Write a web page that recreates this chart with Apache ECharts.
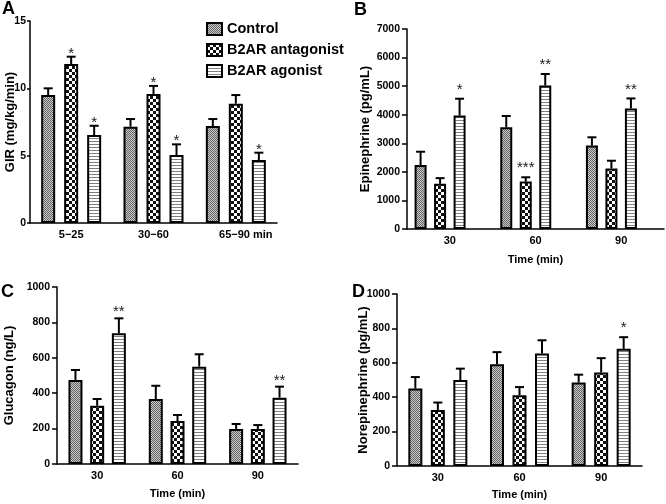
<!DOCTYPE html>
<html>
<head>
<meta charset="utf-8">
<script src="https://cdn.jsdelivr.net/npm/echarts@6/dist/echarts.min.js"></script>
<style>
html,body{margin:0;padding:0;background:#fff;}
#chart{width:666px;height:504px;}
</style>
</head>
<body>
<div id="chart"></div>
<script>
// ---------- DATA ----------
const seriesNames = ['Control', 'B2AR antagonist', 'B2AR agonist'];

const catsGIR = ['5\u221225', '30\u221260', '65\u221290 min'];
const catsTime = ['30', '60', '90'];

// Panel A: GIR (mg/kg/min)
const girControl = [9.5, 7.15, 7.2];
const girControlErr = [0.5, 0.57, 0.52];
const girAntagonist = [11.8, 9.58, 8.86];
const girAntagonistErr = [0.55, 0.6, 0.64];
const girAgonist = [6.53, 5.05, 4.68];
const girAgonistErr = [0.69, 0.79, 0.54];
const girStars = [['', '', ''], ['*', '*', ''], ['*', '*', '*']];

// Panel B: Epinephrine (pg/mL)
const epiControl = [2240, 3560, 2920];
const epiControlErr = [465, 395, 290];
const epiAntagonist = [1580, 1660, 2120];
const epiAntagonistErr = [200, 150, 270];
const epiAgonist = [3970, 5020, 4220];
const epiAgonistErr = [590, 405, 350];
const epiStars = [['', '', ''], ['', '***', ''], ['*', '**', '**']];

// Panel C: Glucagon (ng/L)
const gluControl = [475, 367, 198];
const gluControlErr = [56, 75, 28];
const gluAntagonist = [329, 243, 198];
const gluAntagonistErr = [38, 34, 22];
const gluAgonist = [738, 550, 375];
const gluAgonistErr = [85, 70, 62];
const gluStars = [['', '', ''], ['', '', ''], ['**', '', '**']];

// Panel D: Norepinephrine (pg/mL)
const norControl = [450, 591, 485];
const norControlErr = [67, 71, 46];
const norAntagonist = [326, 411, 543];
const norAntagonistErr = [43, 48, 84];
const norAgonist = [500, 654, 681];
const norAgonistErr = [66, 77, 68];
const norStars = [['', '', ''], ['', '', ''], ['', '', '*']];

// Y-axis ranges / ticks
const yMax = [15, 7000, 1000, 1000];
const yInterval = [5, 1000, 200, 200];
const yNames = ['GIR (mg/kg/min)', 'Epinephrine (pg/mL)', 'Glucagon (ng/L)', 'Norepinephrine (pg/mL)'];
const xNames = ['', 'Time (min)', 'Time (min)', 'Time (min)'];
const panelLetters = ['A', 'B', 'C', 'D'];

// ---------- PATTERNS ----------
function makeCanvas(w, h, draw) {
  const c = document.createElement('canvas');
  c.width = w; c.height = h;
  const ctx = c.getContext('2d');
  draw(ctx);
  return c;
}
const patControl = makeCanvas(2, 2, ctx => {
  ctx.fillStyle = '#cacaca'; ctx.fillRect(0, 0, 2, 2);
  ctx.fillStyle = '#646464'; ctx.fillRect(0, 0, 1, 1); ctx.fillRect(1, 1, 1, 1);
});
const patAntagonist = makeCanvas(6, 6, ctx => {
  ctx.fillStyle = '#ffffff'; ctx.fillRect(0, 0, 6, 6);
  ctx.fillStyle = '#111111'; ctx.fillRect(0, 0, 3, 3); ctx.fillRect(3, 3, 3, 3);
});
const patAgonist = makeCanvas(3, 3, ctx => {
  ctx.fillStyle = '#ffffff'; ctx.fillRect(0, 0, 3, 3);
  ctx.fillStyle = '#808080'; ctx.fillRect(0, 0, 3, 1);
});
const patterns = [patControl, patAntagonist, patAgonist];

// ---------- LAYOUT ----------
const SANS = '"Liberation Sans", Arial, sans-serif';

const grids = [
  { left: 30, top: 21, width: 247, height: 202 },
  { left: 407, top: 29, width: 257, height: 200 },
  { left: 57, top: 287, width: 241, height: 177 },
  { left: 397, top: 294, width: 245, height: 172 }
];
const panelStyle = [
  { barW: 14, pitch: 23, pad: false, starOff: 5, yNameGap: 13, tickLen: 3, labMargin: 4, xNameGap: 23 },
  { barW: 12, pitch: 19.5, pad: true, starOff: 11, yNameGap: 35, tickLen: 5, labMargin: 7, xNameGap: 25 },
  { barW: 14, pitch: 21.7, pad: false, starOff: 8, yNameGap: 41, tickLen: 5, labMargin: 7, xNameGap: 24 },
  { barW: 14, pitch: 22.5, pad: false, starOff: 11, yNameGap: 27, tickLen: 5, labMargin: 7, xNameGap: 23 }
];

const panelData = [
  { vals: [girControl, girAntagonist, girAgonist], errs: [girControlErr, girAntagonistErr, girAgonistErr], stars: girStars },
  { vals: [epiControl, epiAntagonist, epiAgonist], errs: [epiControlErr, epiAntagonistErr, epiAgonistErr], stars: epiStars },
  { vals: [gluControl, gluAntagonist, gluAgonist], errs: [gluControlErr, gluAntagonistErr, gluAgonistErr], stars: gluStars },
  { vals: [norControl, norAntagonist, norAgonist], errs: [norControlErr, norAntagonistErr, norAgonistErr], stars: norStars }
];

const xAxes = [], yAxes = [], series = [], titles = [];
grids.forEach((g, p) => {
  g.outerBoundsMode = 'none';
  const ps = panelStyle[p];
  xAxes.push({
    type: 'category', gridIndex: p, data: p === 0 ? catsGIR : catsTime,
    axisLine: { lineStyle: { color: '#000', width: 1.5 } },
    axisTick: { show: false },
    axisLabel: {
      interval: 0, hideOverlap: false,
      margin: 6, color: '#000', fontSize: 11, fontWeight: 'bold', fontFamily: SANS,
      formatter: v => v.indexOf('min') >= 0 ? '{m|' + v + '}' : v,
      rich: { m: { padding: [0, 0, 0, 20], fontSize: 11, fontWeight: 'bold', fontFamily: SANS, color: '#000' } }
    },
    name: xNames[p], nameLocation: 'middle', nameGap: ps.xNameGap, nameMoveOverlap: false,
    nameTextStyle: { color: '#000', fontSize: 11, fontWeight: 'bold', fontFamily: SANS }
  });
  yAxes.push({
    type: 'value', gridIndex: p, min: 0, max: yMax[p], interval: yInterval[p],
    axisLine: { show: true, lineStyle: { color: '#000', width: 1.5 } },
    axisTick: { show: true, length: ps.tickLen, lineStyle: { color: '#000', width: 1.5 } },
    splitLine: { show: false },
    axisLabel: { margin: ps.labMargin, color: '#000', fontSize: 10.5, fontWeight: 'bold', fontFamily: SANS,
                 formatter: v => String(v) },
    name: yNames[p], nameLocation: 'middle', nameRotate: 90, nameGap: ps.yNameGap, nameMoveOverlap: false,
    nameTextStyle: { color: '#000', fontSize: 13, fontWeight: 'bold', fontFamily: SANS }
  });
  const nSlots = ps.pad ? 4 : 3;
  const gapPct = ((ps.pitch - ps.barW) / ps.barW * 100) + '%';
  const pd = panelData[p];
  for (let s = 0; s < 3; s++) {
    series.push({
      type: 'bar', name: seriesNames[s], xAxisIndex: p, yAxisIndex: p,
      data: pd.vals[s], barWidth: ps.barW, barGap: gapPct,
      itemStyle: { color: { image: patterns[s], repeat: 'repeat' }, borderColor: '#000', borderWidth: 2 },
      emphasis: { disabled: true }, z: 2
    });
  }
  if (ps.pad) {
    series.push({
      type: 'bar', name: 'pad', xAxisIndex: p, yAxisIndex: p,
      data: ['-', '-', '-'], barWidth: ps.barW, barGap: gapPct, silent: true
    });
  }
  for (let s = 0; s < 3; s++) {
    const off = (s - (nSlots - 1) / 2) * ps.pitch;
    const stars = pd.stars[s];
    series.push({
      type: 'custom', xAxisIndex: p, yAxisIndex: p, z: 5, silent: true,
      data: pd.vals[s].map((v, i) => [i, v, pd.errs[s][i]]),
      encode: { x: 0, y: 1 },
      renderItem: (params, api) => {
        const ci = api.value(0), v = api.value(1), e = api.value(2);
        const p0 = api.coord([ci, v]);
        const p1 = api.coord([ci, v + e]);
        const x = p0[0] + off;
        const children = [
          { type: 'line', shape: { x1: x, y1: p0[1], x2: x, y2: p1[1] }, style: { stroke: '#000', lineWidth: 2 } },
          { type: 'line', shape: { x1: x - 4.5, y1: p1[1], x2: x + 4.5, y2: p1[1] }, style: { stroke: '#000', lineWidth: 2 } }
        ];
        const st = stars[params.dataIndex];
        if (st) {
          children.push({
            type: 'text',
            style: { text: st, x: x, y: p1[1] - ps.starOff + 2, align: 'center', verticalAlign: 'middle',
                     fontSize: 15, fill: '#1a1a1a', fontFamily: SANS }
          });
        }
        return { type: 'group', children: children };
      }
    });
  }
});

const letterPos = [[2, 0], [354, 1], [1, 283], [352, 283]];
panelLetters.forEach((L, i) => {
  titles.push({ text: L, left: letterPos[i][0], top: letterPos[i][1], padding: 0,
    textStyle: { fontSize: 18, fontWeight: 'bold', color: '#000', fontFamily: SANS } });
});

const option = {
  animation: false,
  backgroundColor: '#fff',
  title: titles,
  legend: {
    data: seriesNames, orient: 'vertical', left: 201, top: 16,
    itemWidth: 15, itemHeight: 12, itemGap: 5, icon: 'rect', selectedMode: false,
    textStyle: { fontSize: 14.5, fontWeight: 'bold', color: '#000', fontFamily: SANS, lineHeight: 16 }
  },
  grid: grids,
  xAxis: xAxes,
  yAxis: yAxes,
  series: series
};

const chart = echarts.init(document.getElementById('chart'), null, { renderer: 'canvas' });
chart.setOption(option);
</script>
</body>
</html>
